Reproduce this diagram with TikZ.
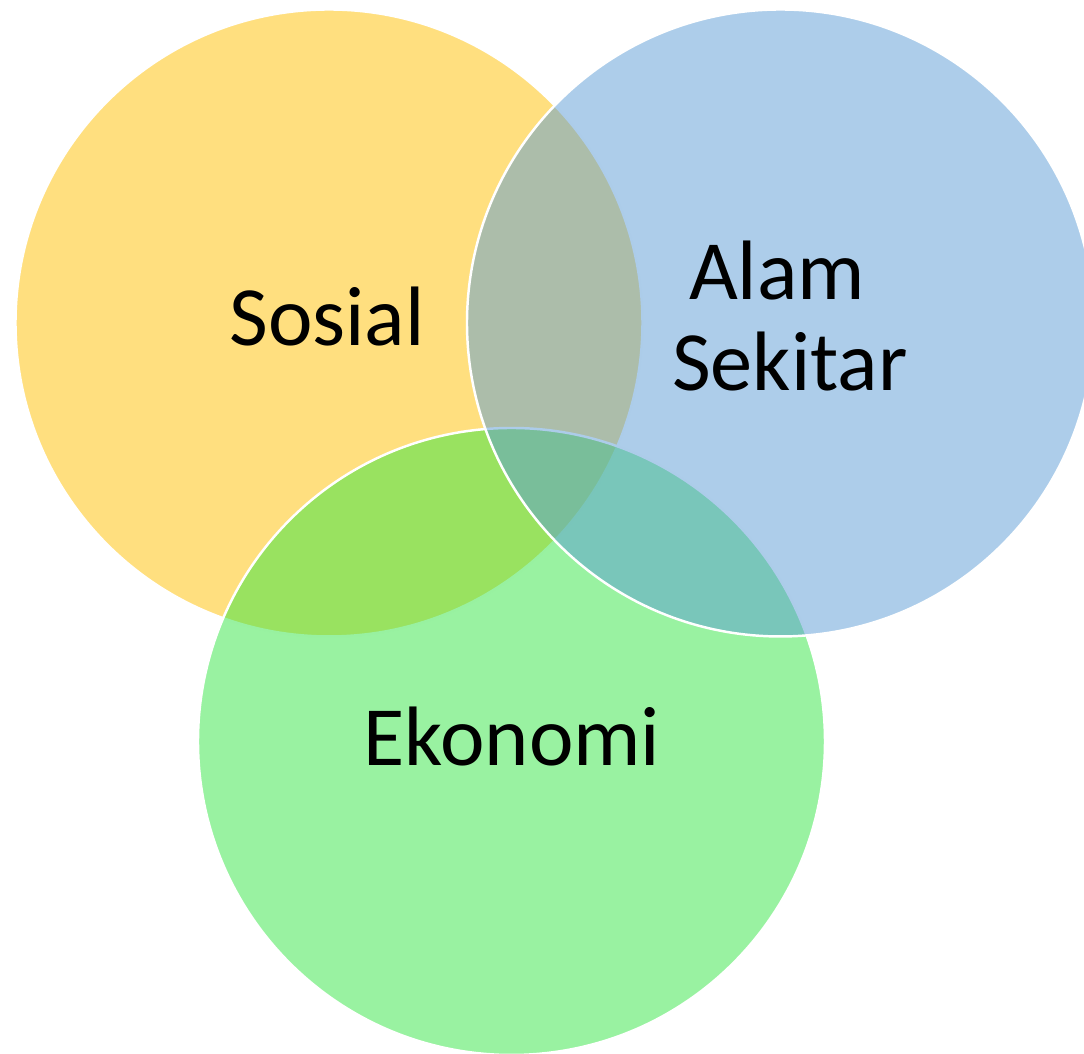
\documentclass[tikz,border=0pt]{standalone}
\usepackage{fontspec}
\setmainfont{Carlito}

\definecolor{sosialgold}{HTML}{FFC000}
\definecolor{alamblue}{HTML}{5B9BD5}
\definecolor{ekonomigreen}{HTML}{33E543}

\tikzset{
  ring/.style={fill opacity=0.5, draw=white, line width=0.7pt},
  ringtext/.style={anchor=base, inner sep=0pt, font=\fontsize{24}{26}\selectfont}
}

\begin{document}
\begin{tikzpicture}

\useasboundingbox (0,0) rectangle (10.84,10.54);

% sosial, top left
\draw[ring, fill=sosialgold] (3.29,7.31) circle (3.135);

% ekonomi, bottom
\draw[ring, fill=ekonomigreen] (5.115,3.125) circle (3.135);

% alam sekitar, top right
\draw[ring, fill=alamblue] (7.805,7.31) circle (3.135);

\node[ringtext] (sosial) at (3.27,7.08) {Sosial};
\node[ringtext] (alam) at (7.77,7.54) {Alam};
\node[ringtext] (sekitar) at (7.90,6.63) {Sekitar};
\node[ringtext] (ekonomi) at (5.12,2.88) {Ekonomi};
%
\end{tikzpicture}
\end{document}
